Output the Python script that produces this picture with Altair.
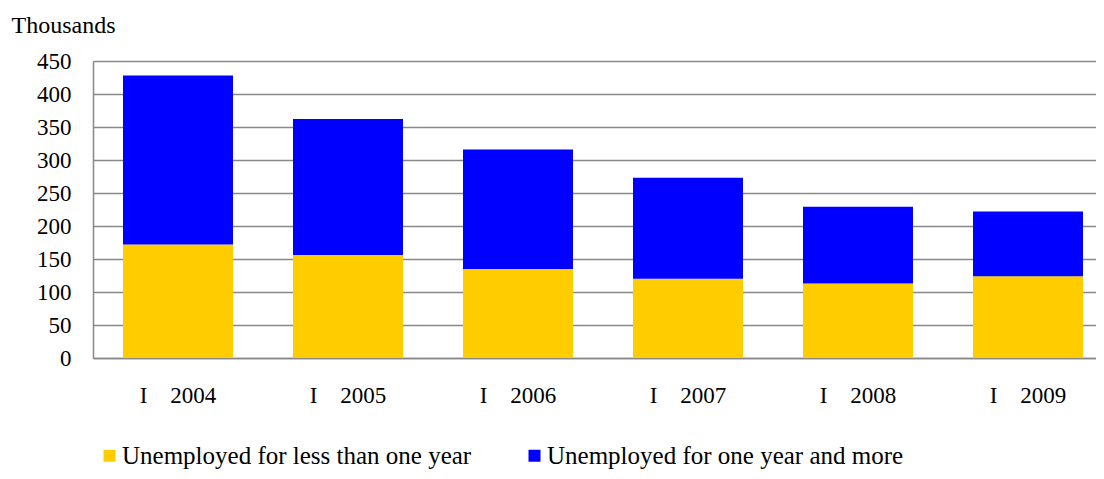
import altair as alt
import pandas as pd

NB = "\u00a0"
categories = [f"I{NB*4}{y}" for y in [2004, 2005, 2006, 2007, 2008, 2009]]
series_names = ["Unemployed for less than one year", "Unemployed for one year and more"]
less_than_one_year = [172, 156, 135, 120, 113, 124]
one_year_and_more = [256, 206, 181, 153, 116, 98]
colors = ["#FFCC00", "#0000FF"]

rows = []
for i, c in enumerate(categories):
    rows.append({"period": c, "series": series_names[0], "value": less_than_one_year[i], "ord": 0})
    rows.append({"period": c, "series": series_names[1], "value": one_year_and_more[i], "ord": 1})
df = pd.DataFrame(rows)

FONT = "'Liberation Serif', 'Times New Roman', Times, serif"

chart = alt.Chart(df).mark_bar().encode(
    x=alt.X("period:N", sort=categories,
            scale=alt.Scale(range=[0, 1020], paddingInner=0.353, paddingOuter=0.1765),
            axis=alt.Axis(title=None, labelAngle=0, ticks=False, labelPadding=26,
                          domainColor="#888888", domainWidth=1.5, grid=False,
                          labelFont=FONT, labelFontSize=23, labelColor="#000000")),
    y=alt.Y("value:Q", stack="zero",
            scale=alt.Scale(domain=[0, 450], nice=False),
            axis=alt.Axis(title="Thousands", titleAngle=0, titleX=-82, titleY=-36,
                          titleAlign="left", titleBaseline="middle",
                          titleFont=FONT, titleFontSize=24, titleFontWeight="normal", titleColor="#000000",
                          values=list(range(0, 451, 50)), ticks=False, labelPadding=22,
                          labelFont=FONT, labelFontSize=23, labelColor="#000000",
                          domainColor="#888888", domainWidth=1.5,
                          grid=True, gridColor="#888888", gridWidth=1.5)),
    color=alt.Color("series:N", sort=series_names,
                    scale=alt.Scale(domain=series_names, range=colors),
                    legend=alt.Legend(title=None, orient="none", legendX=4, legendY=382,
                                      direction="horizontal", symbolType="square", symbolSize=144,
                                      symbolStrokeWidth=0, symbolOffset=0, labelOffset=0,
                                      columnPadding=50, padding=0,
                                      labelFont=FONT, labelFontSize=25, labelColor="#000000",
                                      labelLimit=500)),
    order=alt.Order("ord:Q", sort="ascending"),
).properties(
    width=1003, height=297,
    padding={"left": 85, "top": 53, "right": 0, "bottom": 113},
    autosize=alt.AutoSizeParams(type="none"),
).configure_view(stroke=None)

chart.save("out.html", embed_options={"renderer": "svg", "actions": False})
